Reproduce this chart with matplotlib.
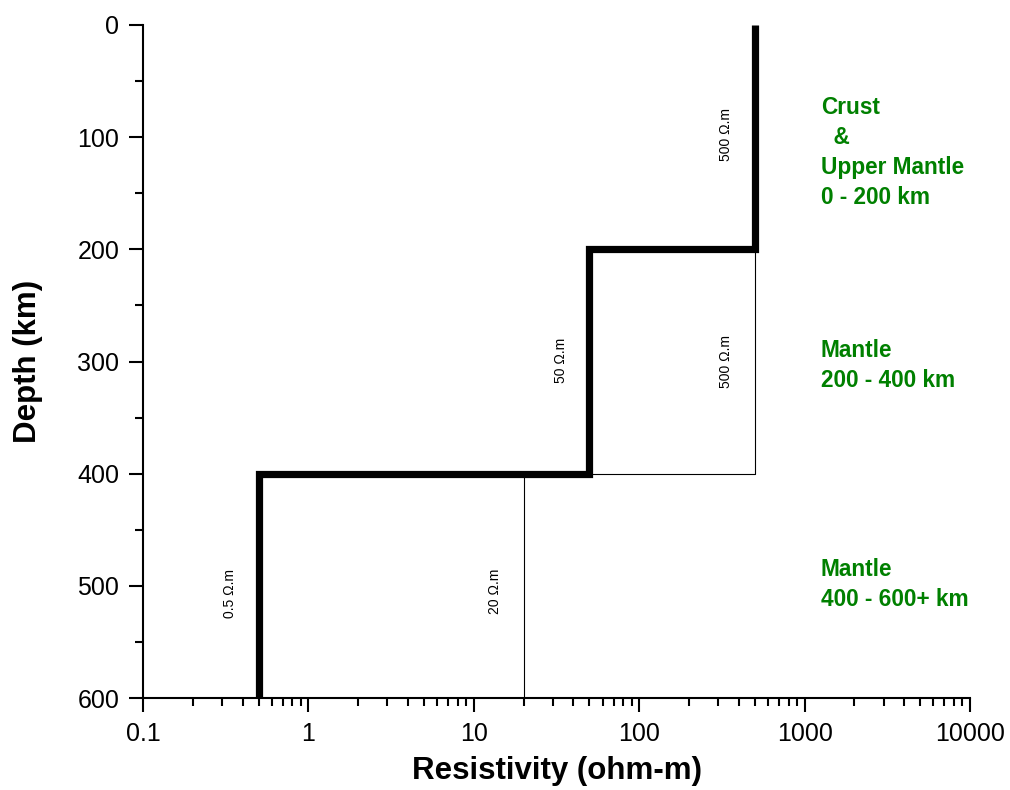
import matplotlib
matplotlib.use("Agg")
import matplotlib.pyplot as plt
from matplotlib.ticker import FixedLocator, LogLocator, FuncFormatter, MultipleLocator

plt.rcParams['font.family'] = ['Liberation Sans', 'DejaVu Sans']

# Layered resistivity model (ohm-m) against depth (km)
model_resistivity = [500, 500, 50, 50, 0.5, 0.5]
model_depth = [0, 200, 200, 400, 400, 600]

# Alternative layer boundaries drawn as thin lines
alt_upper_resistivity = [500, 500, 50]
alt_upper_depth = [200, 400, 400]
alt_lower_resistivity = [20, 20]
alt_lower_depth = [400, 600]

# Resistivity annotations: (value, depth at label centre, text)
value_labels = [
    (500, 98, "500 Ω.m"),
    (50, 299, "50 Ω.m"),
    (500, 300, "500 Ω.m"),
    (0.5, 507, "0.5 Ω.m"),
    (20, 505, "20 Ω.m"),
]

# Layer descriptions: (top depth of block, text)
zone_labels = [
    (63, "Crust\n  &\nUpper Mantle\n0 - 200 km"),
    (280, "Mantle\n200 - 400 km"),
    (475, "Mantle\n400 - 600+ km"),
]

x_ticks = [0.1, 1, 10, 100, 1000, 10000]
x_tick_labels = ["0.1", "1", "10", "100", "1000", "10000"]
y_ticks = [0, 100, 200, 300, 400, 500, 600]

fig = plt.figure(figsize=(10.1, 7.9), dpi=100)
ax = fig.add_axes([143 / 1010, 92 / 790, 827 / 1010, 673 / 790])

ax.plot(model_resistivity, model_depth, color='black', lw=5.2,
        solid_joinstyle='miter', solid_capstyle='butt', zorder=3)
ax.plot(alt_upper_resistivity, alt_upper_depth, color='black', lw=0.8, zorder=2)
ax.plot(alt_lower_resistivity, alt_lower_depth, color='black', lw=0.8, zorder=2)

for val, depth, txt in value_labels:
    ax.annotate(txt, xy=(val, depth), xytext=(-20.5, 0), textcoords='offset points',
                rotation=90, ha='center', va='center', fontsize=10,
                rotation_mode='anchor')

for depth, txt in zone_labels:
    ax.text(1250, depth, txt, color='#008000', fontsize=16.3, fontweight='bold',
            ha='left', va='top', linespacing=1.4)

ax.set_xscale('log')
ax.set_xlim(0.1, 10000)
ax.set_ylim(600, 0)

ax.xaxis.set_major_locator(FixedLocator(x_ticks))
ax.xaxis.set_major_formatter(FuncFormatter(
    lambda v, p: x_tick_labels[x_ticks.index(v)] if v in x_ticks else ""))
ax.xaxis.set_minor_locator(LogLocator(base=10, subs=range(2, 10), numticks=20))
ax.xaxis.set_minor_formatter(FuncFormatter(lambda v, p: ""))
ax.yaxis.set_major_locator(FixedLocator(y_ticks))
ax.yaxis.set_minor_locator(MultipleLocator(50))

for side in ('top', 'right'):
    ax.spines[side].set_visible(False)
for side in ('left', 'bottom'):
    ax.spines[side].set_linewidth(1.5)

ax.tick_params(which='major', direction='out', length=10, width=1.5,
               labelsize=18, pad=7)
ax.tick_params(which='minor', direction='out', length=6, width=1.5)

ax.set_xlabel("Resistivity (ohm-m)", fontsize=22.5, fontweight='bold', va='center')
ax.xaxis.set_label_coords(0.5, -0.108)
ax.set_ylabel("Depth (km)", fontsize=22.5, fontweight='bold', va='center')
ax.yaxis.set_label_coords(-0.139, 0.5)

fig.savefig("out.png", dpi=100)
